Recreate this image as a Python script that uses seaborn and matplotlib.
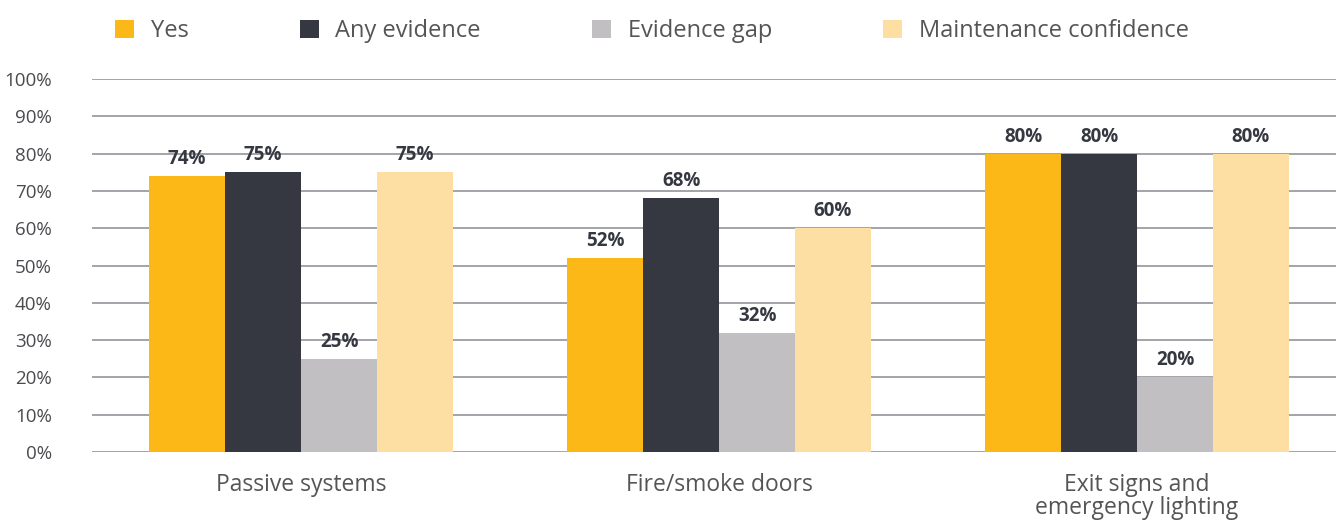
import matplotlib
matplotlib.use("Agg")
import matplotlib.pyplot as plt
import seaborn as sns
import pandas as pd
from matplotlib.patches import Patch

categories = ["Passive systems", "Fire/smoke doors", "Exit signs and\nemergency lighting"]
series = ["Yes", "Any evidence", "Evidence gap", "Maintenance confidence"]
yes_vals = [74, 52, 80]
any_vals = [75, 68, 80]
gap_vals = [25, 32, 20]
maint_vals = [75, 60, 80]
colors = ["#FBB817", "#353841", "#C1BFC2", "#FDDFA3"]
yticks = list(range(0, 101, 10))

rows = []
for s, vals in zip(series, [yes_vals, any_vals, gap_vals, maint_vals]):
    for c, v in zip(categories, vals):
        rows.append({"category": c, "series": s, "value": v})
df = pd.DataFrame(rows)

sns.set_theme(style="white")
plt.rcParams["font.family"] = ["Open Sans", "DejaVu Sans"]

fig = plt.figure(figsize=(13.36, 5.25), dpi=100)
ax = fig.add_axes([0.069, 0.139, 0.931, 0.7105])

sns.barplot(data=df, x="category", y="value", hue="series", palette=colors,
            hue_order=series, order=categories, width=0.727, saturation=1,
            linewidth=0, edgecolor="none",
            ax=ax, legend=False, zorder=3)

for cont in ax.containers:
    ax.bar_label(cont, labels=[f"{int(round(b.get_height()))}%" for b in cont],
                 padding=5, fontsize=13.5, fontweight="bold", color="#353841")

ax.set_ylim(0, 100)
ax.set_xlim(-0.5, 2.476)
ax.set_yticks(yticks)
ax.set_yticklabels([f"{t}%" for t in yticks], fontsize=13.5, color="#4a4a4f")
ax.tick_params(axis="y", length=0, pad=29)
ax.tick_params(axis="x", length=0, pad=15, labelsize=16.5, labelcolor="#555558")
ax.yaxis.grid(True, color="#9d9ca2", linewidth=1.3, zorder=0)
ax.set_axisbelow(True)
for sp in ax.spines.values():
    sp.set_visible(False)
ax.set_xlabel("")
ax.set_ylabel("")
for lbl in ax.get_xticklabels():
    lbl.set_linespacing(0.95)

handles = [Patch(facecolor=c, edgecolor="none") for c in colors]
fig.legend(handles, series, loc="upper left", bbox_to_anchor=(0.07, 1.004),
           ncol=4, frameon=False, fontsize=17, handlelength=0.82, handleheight=0.82,
           handletextpad=0.7, columnspacing=4.7, labelcolor="#555558",
           borderaxespad=0.5)

fig.savefig("out.png", dpi=100)
